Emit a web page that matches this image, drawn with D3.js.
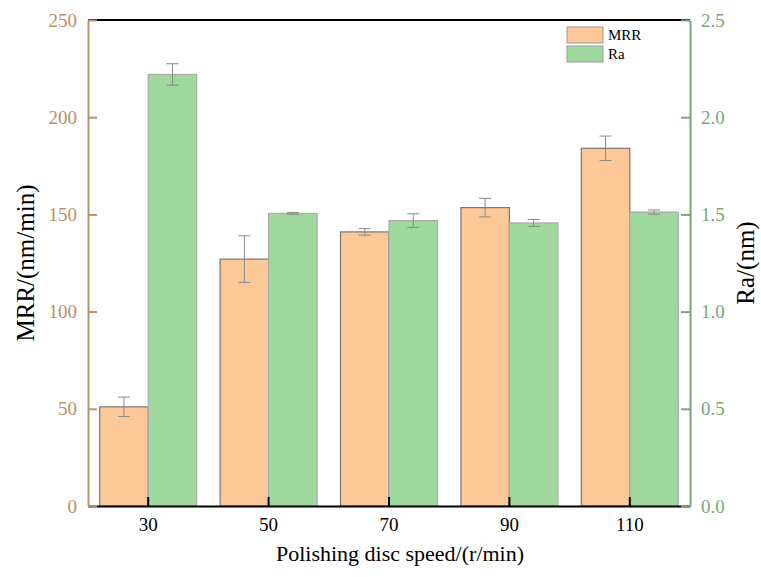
<!DOCTYPE html>
<html>
<head>
<meta charset="utf-8">
<script src="https://cdn.jsdelivr.net/npm/d3@7"></script>
<style>
  body { margin: 0; background: #fff; }
  svg text { font-family: "Liberation Serif", "Times New Roman", serif !important; }
</style>
</head>
<body>
<svg width="761" height="577"></svg>
<script>
// data
var speeds = ["30", "50", "70", "90", "110"];
var mrr = [51, 127, 141, 153.5, 184];
var mrrErr = [5, 12, 1.7, 4.8, 6.3];
var ra = [2.22, 1.505, 1.468, 1.456, 1.512];
var raErr = [0.055, 0.005, 0.035, 0.018, 0.011];
var leftTicks = [0, 50, 100, 150, 200, 250];
var rightTicks = [0, 0.5, 1.0, 1.5, 2.0, 2.5];

var mrrColor = "#fdc897", raColor = "#9fd89c";
var leftColor = "#b8906a", rightColor = "#78a678";

var svg = d3.select("svg");
var plotL = 88, plotR = 690, plotT = 20, plotB = 506;

var x = d3.scaleBand().domain(speeds).range([plotL, plotR]).padding(0);
var yL = d3.scaleLinear().domain([0, 250]).range([plotB, plotT]);
var yR = d3.scaleLinear().domain([0, 2.5]).range([plotB, plotT]);
var bw = 48.5;

// top frame line
svg.append("line").attr("x1", plotL).attr("x2", plotR).attr("y1", plotT).attr("y2", plotT)
    .attr("stroke", "#000").attr("stroke-width", 2);

// bars
var g = svg.append("g");
g.selectAll(".mrr").data(speeds).enter().append("rect")
    .attr("x", function(d) { return x(d) + x.bandwidth() / 2 - bw; })
    .attr("y", function(d, i) { return yL(mrr[i]); })
    .attr("width", bw)
    .attr("height", function(d, i) { return plotB - yL(mrr[i]); })
    .attr("fill", mrrColor).attr("stroke", "#777").attr("stroke-width", 1.2);

g.selectAll(".ra").data(speeds).enter().append("rect")
    .attr("x", function(d) { return x(d) + x.bandwidth() / 2; })
    .attr("y", function(d, i) { return yR(ra[i]); })
    .attr("width", bw)
    .attr("height", function(d, i) { return plotB - yR(ra[i]); })
    .attr("fill", raColor).attr("stroke", "#aaa").attr("stroke-width", 1.2);

// error bars
function errBar(cx, y1, y2) {
    var e = svg.append("g").attr("stroke", "#888").attr("stroke-width", 1);
    e.append("line").attr("x1", cx).attr("x2", cx).attr("y1", y1).attr("y2", y2);
    e.append("line").attr("x1", cx - 6).attr("x2", cx + 6).attr("y1", y1).attr("y2", y1);
    e.append("line").attr("x1", cx - 6).attr("x2", cx + 6).attr("y1", y2).attr("y2", y2);
}
speeds.forEach(function(d, i) {
    var c = x(d) + x.bandwidth() / 2;
    errBar(c - bw / 2, yL(mrr[i] + mrrErr[i]), yL(mrr[i] - mrrErr[i]));
    errBar(c + bw / 2, yR(ra[i] + raErr[i]), yR(ra[i] - raErr[i]));
});

// bottom axis
var xAxis = svg.append("g").attr("transform", "translate(0," + plotB + ")")
    .call(d3.axisBottom(x).tickSizeInner(-9).tickSizeOuter(0).tickPadding(12));
xAxis.select(".domain").attr("stroke", "#000").attr("stroke-width", 2);
xAxis.selectAll(".tick line").attr("stroke", "#000").attr("stroke-width", 2);
xAxis.selectAll("text").attr("font-size", 19).attr("fill", "#000");

// left axis
var yAxisL = svg.append("g").attr("transform", "translate(" + plotL + ",0)")
    .call(d3.axisLeft(yL).tickValues(leftTicks).tickSizeInner(-9).tickSizeOuter(0).tickPadding(11));
yAxisL.select(".domain").attr("stroke", leftColor).attr("stroke-width", 2);
yAxisL.selectAll(".tick line").attr("stroke", leftColor).attr("stroke-width", 2);
yAxisL.selectAll("text").attr("font-size", 19).attr("fill", leftColor);

// right axis
var yAxisR = svg.append("g").attr("transform", "translate(" + plotR + ",0)")
    .call(d3.axisRight(yR).tickValues(rightTicks).tickFormat(d3.format(".1f"))
        .tickSizeInner(-9).tickSizeOuter(0).tickPadding(11));
yAxisR.select(".domain").attr("stroke", rightColor).attr("stroke-width", 2);
yAxisR.selectAll(".tick line").attr("stroke", rightColor).attr("stroke-width", 2);
yAxisR.selectAll("text").attr("font-size", 19).attr("fill", rightColor);

// axis titles
svg.append("text").attr("transform", "translate(25," + ((plotT + plotB) / 2) + ") rotate(-90)")
    .attr("text-anchor", "middle").attr("dy", "0.35em")
    .attr("font-size", 25).attr("fill", "#000").text("MRR/(nm/min)");
svg.append("text").attr("transform", "translate(745," + ((plotT + plotB) / 2) + ") rotate(-90)")
    .attr("text-anchor", "middle").attr("dy", "0.35em")
    .attr("font-size", 25).attr("fill", "#000").text("Ra/(nm)");
svg.append("text").attr("x", 400).attr("y", 553)
    .attr("text-anchor", "middle").attr("dy", "0.35em")
    .attr("font-size", 22).attr("fill", "#000").text("Polishing disc speed/(r/min)");

// legend
var legend = [["MRR", mrrColor], ["Ra", raColor]];
var lg = svg.append("g").attr("transform", "translate(567,27)");
legend.forEach(function(l, i) {
    lg.append("rect").attr("x", 0).attr("y", i * 19).attr("width", 36).attr("height", 16)
        .attr("fill", l[1]).attr("stroke", "#999").attr("stroke-width", 1);
    lg.append("text").attr("x", 41).attr("y", i * 19 + 8).attr("dy", "0.35em")
        .attr("font-size", 15).attr("fill", "#000").text(l[0]);
});
</script>
</body>
</html>
